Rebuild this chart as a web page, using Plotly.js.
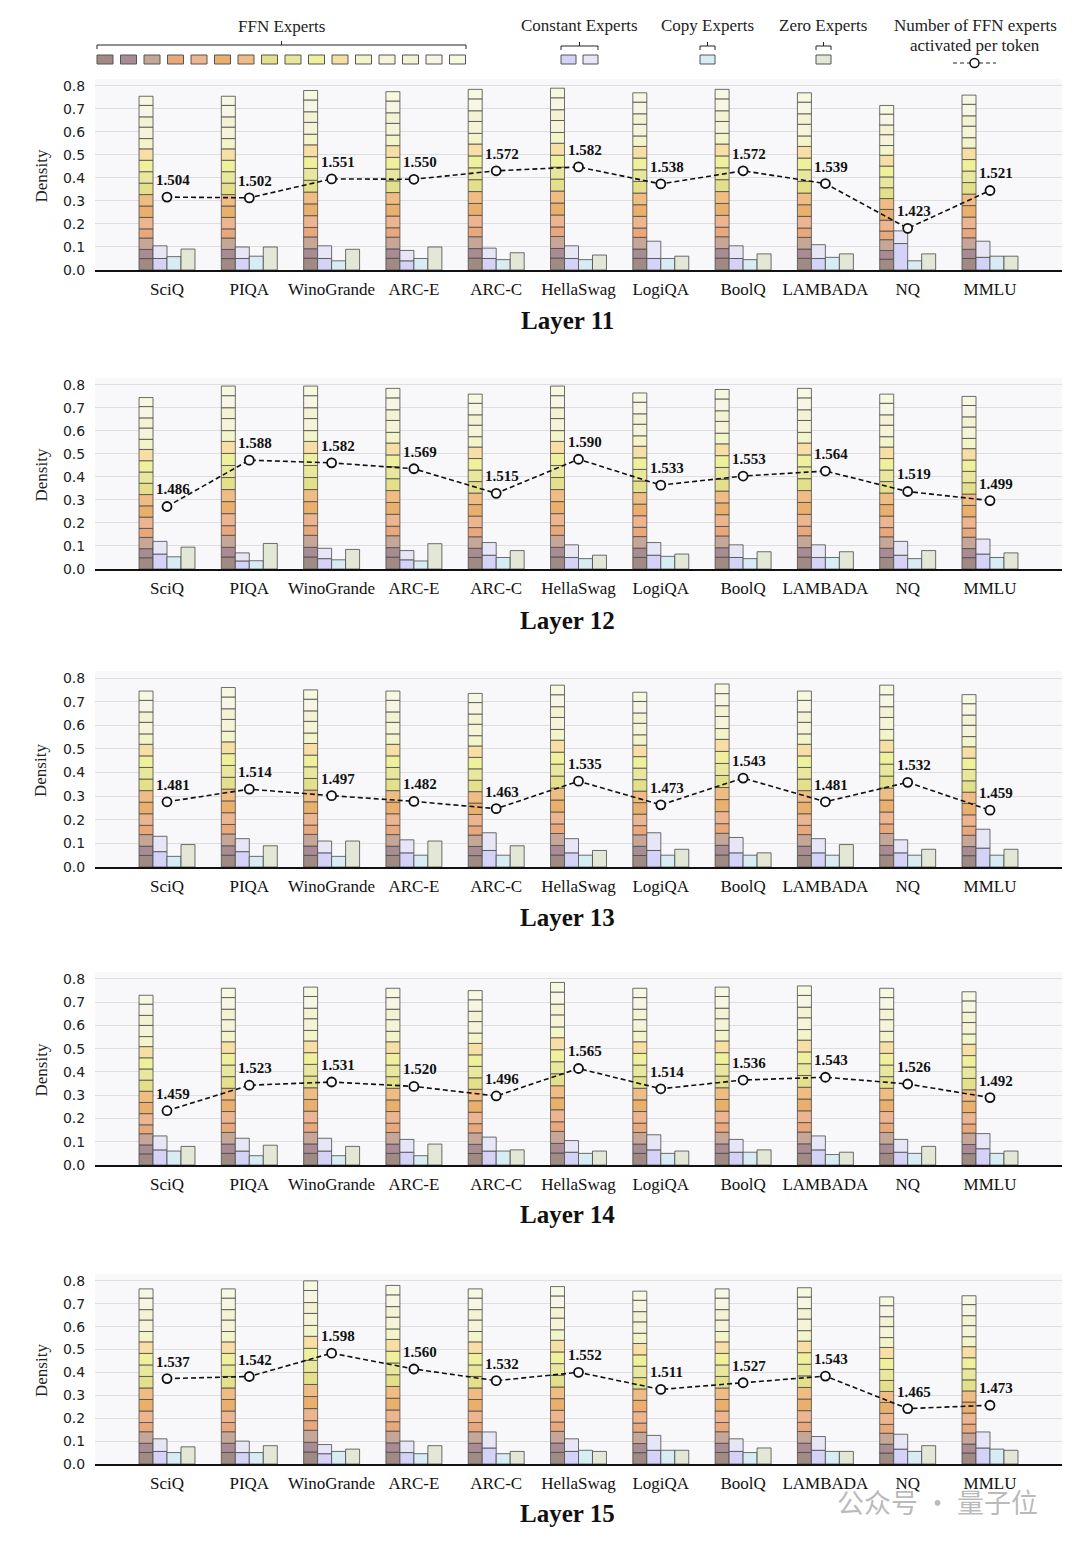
<!DOCTYPE html>
<html><head><meta charset="utf-8">
<script src="https://cdn.plot.ly/plotly-3.0.1.min.js"></script>
<style>body{margin:0;background:#fff}#chart{width:1080px;height:1545px}</style>
</head><body><div id="chart"></div>
<script>
const categories = ['SciQ','PIQA','WinoGrande','ARC-E','ARC-C','HellaSwag','LogiQA','BoolQ','LAMBADA','NQ','MMLU'];
const layerNames = ['Layer 11','Layer 12','Layer 13','Layer 14','Layer 15'];
const yTickVals = [0,0.1,0.2,0.3,0.4,0.5,0.6,0.7,0.8];

// Total density routed to FFN experts (tall stacked bar)
const ffnL11 = [0.755,0.755,0.78,0.775,0.785,0.79,0.77,0.785,0.77,0.715,0.76];
const ffnL12 = [0.745,0.795,0.795,0.785,0.76,0.795,0.765,0.78,0.785,0.76,0.75];
const ffnL13 = [0.745,0.76,0.75,0.745,0.735,0.77,0.74,0.775,0.745,0.77,0.73];
const ffnL14 = [0.73,0.76,0.765,0.76,0.75,0.785,0.76,0.765,0.77,0.76,0.745];
const ffnL15 = [0.765,0.765,0.8,0.78,0.765,0.775,0.755,0.765,0.77,0.73,0.735];

// Typical split of the FFN bar over the 16 FFN experts (read from SciQ, Layer 11)
const ffnProfile = [0.05,0.04,0.05,0.04,0.05,0.05,0.05,0.05,0.05,0.05,0.05,0.045,0.05,0.045,0.05,0.04];

// Constant experts (two stacked parts)
const constLowL11  = [0.05,0.05,0.05,0.04,0.05,0.05,0.05,0.05,0.05,0.115,0.055];
const constHighL11 = [0.055,0.05,0.055,0.045,0.045,0.055,0.075,0.055,0.06,0.055,0.07];
const constLowL12  = [0.065,0.035,0.045,0.04,0.06,0.05,0.06,0.05,0.05,0.06,0.065];
const constHighL12 = [0.055,0.035,0.045,0.04,0.055,0.055,0.055,0.055,0.055,0.06,0.065];
const constLowL13  = [0.065,0.065,0.06,0.06,0.07,0.06,0.07,0.06,0.06,0.06,0.08];
const constHighL13 = [0.065,0.055,0.05,0.055,0.075,0.06,0.075,0.065,0.06,0.055,0.08];
const constLowL14  = [0.065,0.06,0.06,0.055,0.06,0.055,0.065,0.055,0.065,0.055,0.07];
const constHighL14 = [0.06,0.055,0.055,0.055,0.06,0.05,0.065,0.055,0.06,0.055,0.065];
const constLowL15  = [0.055,0.05,0.045,0.05,0.07,0.055,0.06,0.055,0.06,0.065,0.07];
const constHighL15 = [0.055,0.05,0.04,0.05,0.07,0.055,0.065,0.055,0.06,0.065,0.07];

// Copy experts
const copyL11 = [0.058,0.06,0.04,0.05,0.045,0.045,0.05,0.045,0.055,0.04,0.06];
const copyL12 = [0.053,0.036,0.04,0.035,0.05,0.045,0.055,0.045,0.05,0.045,0.05];
const copyL13 = [0.045,0.045,0.045,0.05,0.05,0.05,0.05,0.05,0.05,0.05,0.05];
const copyL14 = [0.06,0.04,0.04,0.04,0.06,0.05,0.05,0.055,0.045,0.05,0.05];
const copyL15 = [0.05,0.05,0.055,0.045,0.045,0.06,0.06,0.05,0.055,0.055,0.065];

// Zero experts
const zeroL11 = [0.091,0.10,0.09,0.10,0.075,0.065,0.06,0.07,0.07,0.07,0.06];
const zeroL12 = [0.095,0.111,0.085,0.11,0.08,0.06,0.065,0.075,0.075,0.08,0.07];
const zeroL13 = [0.095,0.09,0.11,0.11,0.09,0.07,0.075,0.06,0.095,0.075,0.075];
const zeroL14 = [0.08,0.085,0.08,0.09,0.065,0.06,0.06,0.065,0.055,0.08,0.06];
const zeroL15 = [0.075,0.08,0.065,0.08,0.055,0.055,0.06,0.07,0.055,0.08,0.06];

// Number of FFN experts activated per token
const activeL11 = [1.504,1.502,1.551,1.550,1.572,1.582,1.538,1.572,1.539,1.423,1.521];
const activeL12 = [1.486,1.588,1.582,1.569,1.515,1.590,1.533,1.553,1.564,1.519,1.499];
const activeL13 = [1.481,1.514,1.497,1.482,1.463,1.535,1.473,1.543,1.481,1.532,1.459];
const activeL14 = [1.459,1.523,1.531,1.520,1.496,1.565,1.514,1.536,1.543,1.526,1.492];
const activeL15 = [1.537,1.542,1.598,1.560,1.532,1.552,1.511,1.527,1.543,1.465,1.473];

// ---- styles / layout ----
const ffnColors = ['#a08a84','#a98c93','#c6a797','#e9a87c','#ecb58f','#e8b06c','#efbd83','#e3df8a','#e9e79e','#eef09b','#f6dea5','#f2f4c9','#f5f4d9','#f3f3d3','#f7f6e5','#f6f8e0'];
const constColors = ['#d5d2f7','#e7e6f6'];
const copyColor = '#d8edf3';
const zeroColor = '#e3e8d6';
const edge = '#4a4a4a';
const W = 1080, H = 1545;
const px = x => x / W, py = y => 1 - y / H;
const plotTop = [79, 378, 671, 972, 1274];
const plotBottom = [270, 569, 867, 1165, 1464];
const titleY = [321, 620, 917, 1214, 1513];
const y2Ranges = [[1.3152,1.8096],[1.3485,1.7687],[1.3102,1.8235],[1.3227,1.8072],[1.3321,1.7879]];
const serif = 'Liberation Serif, Times New Roman, serif';

const layers = [
  {ffn: ffnL11, cl: constLowL11, ch: constHighL11, copy: copyL11, zero: zeroL11, act: activeL11},
  {ffn: ffnL12, cl: constLowL12, ch: constHighL12, copy: copyL12, zero: zeroL12, act: activeL12},
  {ffn: ffnL13, cl: constLowL13, ch: constHighL13, copy: copyL13, zero: zeroL13, act: activeL13},
  {ffn: ffnL14, cl: constLowL14, ch: constHighL14, copy: copyL14, zero: zeroL14, act: activeL14},
  {ffn: ffnL15, cl: constLowL15, ch: constHighL15, copy: copyL15, zero: zeroL15, act: activeL15}
];

const idx = categories.map((_, i) => i);
const profSum = ffnProfile.reduce((a, b) => a + b, 0);
const traces = [];
const annotations = [];
const shapes = [];
const layout = {
  width: W, height: H, margin: {l:0, r:0, t:0, b:0},
  paper_bgcolor: '#ffffff', plot_bgcolor: '#f8f8fa',
  barmode: 'overlay', showlegend: false
};

const BW = 0.17;
function bar(xa, ya, y, base, offset, color) {
  return {type:'bar', x: idx, y: y, base: base, offset: offset, width: BW,
    xaxis: xa, yaxis: ya, marker: {color: color, line: {color: edge, width: 0.8}},
    hoverinfo: 'skip', showlegend: false};
}
function paperText(x, y, t, font, extra) {
  annotations.push(Object.assign({xref:'paper', yref:'paper', x: px(x), y: py(y), text: t,
    showarrow: false, xanchor: 'center', yanchor: 'middle', font: font}, extra || {}));
}

layers.forEach((L, k) => {
  const xa = 'x' + (k + 1), ya = 'y' + (k + 1), ya2 = 'y' + (k + 6);
  let base = idx.map(() => 0);
  ffnProfile.forEach((p, j) => {
    const seg = L.ffn.map(t => t * p / profSum);
    traces.push(bar(xa, ya, seg, base.slice(), -2 * BW, ffnColors[j]));
    base = base.map((b, i) => b + seg[i]);
  });
  traces.push(bar(xa, ya, L.cl, idx.map(() => 0), -BW, constColors[0]));
  traces.push(bar(xa, ya, L.ch, L.cl.slice(), -BW, constColors[1]));
  traces.push(bar(xa, ya, L.copy, idx.map(() => 0), 0, copyColor));
  traces.push(bar(xa, ya, L.zero, idx.map(() => 0), BW, zeroColor));
  traces.push({type:'scatter', mode:'lines+markers', x: idx, y: L.act, xaxis: xa, yaxis: ya2,
    line: {color:'#111', width:1.6, dash:'5px,3px'},
    marker: {symbol:'circle', size:9, color:'#ffffff', line:{color:'#111', width:1.8}},
    hoverinfo:'skip', showlegend:false});
  L.act.forEach((v, i) => {
    annotations.push({xref: xa, yref: ya2, x: i, y: v, text: '<b>' + v.toFixed(3) + '</b>',
      showarrow: false, xanchor: 'center', yanchor: 'middle', xshift: 6, yshift: 17,
      font: {family: serif, size: 15, color: '#111'}});
  });

  const dom = [py(plotBottom[k]), py(plotTop[k])];
  layout['xaxis' + (k + 1)] = {
    domain: [px(95), px(1062)], range: [-0.875, 10.875], anchor: ya,
    tickmode: 'array', tickvals: idx, ticktext: categories,
    ticks: 'outside', ticklen: 3, tickcolor: 'rgba(0,0,0,0)',
    tickfont: {family: serif, size: 17, color: '#111'},
    showline: true, linecolor: '#111', linewidth: 1.5,
    showgrid: false, zeroline: false, fixedrange: true
  };
  layout['yaxis' + (k + 1)] = {
    domain: dom, range: [0, 0.83], anchor: xa,
    tickmode: 'array', tickvals: yTickVals, ticktext: yTickVals.map(v => v.toFixed(1)),
    ticks: 'outside', ticklen: 6, tickcolor: 'rgba(0,0,0,0)',
    tickfont: {family: 'DejaVu Sans, sans-serif', size: 14, color: '#222'},
    showgrid: true, gridcolor: '#dedede', gridwidth: 1,
    showline: false, zeroline: false, fixedrange: true
  };
  layout['yaxis' + (k + 6)] = {
    overlaying: ya, anchor: xa, range: y2Ranges[k], visible: false,
    showgrid: false, zeroline: false, fixedrange: true
  };
  paperText(41, (plotTop[k] + plotBottom[k]) / 2 + 2, 'Density',
    {family: serif, size: 17, color: '#222'}, {textangle: -90});
  paperText(567, titleY[k], '<b>' + layerNames[k] + '</b>', {family: serif, size: 25, color: '#111'});
});

// ---- custom legend on top ----
function rect(x0, y0, x1, y1, fill) {
  shapes.push({type:'rect', xref:'paper', yref:'paper', x0: px(x0), x1: px(x1), y0: py(y1), y1: py(y0),
    fillcolor: fill, line: {color: '#555', width: 1}});
}
function seg(x0, y0, x1, y1, dash) {
  shapes.push({type:'line', xref:'paper', yref:'paper', x0: px(x0), x1: px(x1), y0: py(y0), y1: py(y1),
    line: {color: '#222', width: 1, dash: dash || 'solid'}});
}
function bracket(x0, x1, y) {
  const xm = (x0 + x1) / 2;
  seg(x0, y, x1, y); seg(x0, y, x0, y + 4); seg(x1, y, x1, y + 4); seg(xm, y, xm, y - 4);
}
const legFont = {family: serif, size: 17, color: '#222'};
ffnColors.forEach((c, j) => { const x0 = 97 + j * 23.5; rect(x0, 55, x0 + 16, 64, c); });
bracket(97, 466, 45);
paperText(281, 26, 'FFN Experts', legFont);
rect(561, 55, 576, 64, constColors[0]); rect(583, 55, 598, 64, constColors[1]);
bracket(561, 598, 46);
paperText(579, 25, 'Constant Experts', legFont);
rect(700, 55, 715, 64, copyColor); bracket(700, 715, 46);
paperText(707, 25, 'Copy Experts', legFont);
rect(816, 55, 831, 64, zeroColor); bracket(816, 831, 46);
paperText(823, 25, 'Zero Experts', legFont);
paperText(975, 25, 'Number of FFN experts', legFont);
paperText(975, 46, 'activated per token', legFont);
seg(953, 63, 970, 63, '4px,3px'); seg(979, 63, 996, 63, '4px,3px');
shapes.push({type:'circle', xref:'paper', yref:'paper', x0: px(970), x1: px(979), y0: py(67.5), y1: py(58.5),
  fillcolor: '#fff', line: {color: '#111', width: 1.5}});

// watermark
paperText(937, 1501, '公众号 · 量子位', {family: 'Noto Sans CJK SC, sans-serif', size: 27, color: 'rgba(140,140,140,0.6)'});

layout.annotations = annotations;
layout.shapes = shapes;
Plotly.newPlot('chart', traces, layout, {displayModeBar: false, staticPlot: true});
</script></body></html>
